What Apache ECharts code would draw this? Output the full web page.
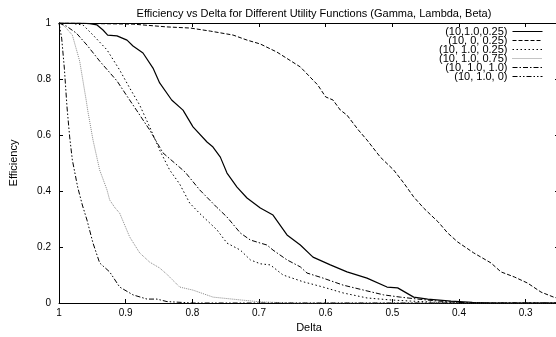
<!DOCTYPE html>
<html>
<head>
<meta charset="utf-8">
<script src="https://cdn.jsdelivr.net/npm/echarts@6/dist/echarts.min.js"></script>
<style>
  html, body { margin: 0; padding: 0; background: #fff; }
  #chart { width: 556px; height: 337px; }
</style>
</head>
<body>
<div id="chart"></div>
<script>
// [delta, efficiency]
const solid_g10_l1_b025 = [[1.0,1.0],[0.97,1.0],[0.954,0.998],[0.943,0.993],[0.934,0.975],[0.927,0.957],[0.913,0.954],[0.898,0.939],[0.889,0.918],[0.874,0.893],[0.859,0.839],[0.849,0.786],[0.831,0.725],[0.814,0.689],[0.799,0.629],[0.778,0.575],[0.769,0.557],[0.758,0.521],[0.748,0.464],[0.733,0.414],[0.718,0.375],[0.698,0.339],[0.679,0.314],[0.658,0.243],[0.638,0.207],[0.619,0.164],[0.593,0.136],[0.568,0.111],[0.538,0.089],[0.508,0.057],[0.492,0.054],[0.468,0.021],[0.447,0.014],[0.412,0.007],[0.38,0.002],[0.35,0],[0.25,0]];
const dashed_g10_l0_b025 = [[1.0,1.0],[0.95,0.998],[0.889,0.996],[0.838,0.986],[0.803,0.982],[0.773,0.971],[0.739,0.957],[0.718,0.939],[0.698,0.925],[0.673,0.896],[0.638,0.843],[0.612,0.779],[0.600,0.736],[0.589,0.725],[0.578,0.689],[0.568,0.671],[0.551,0.618],[0.538,0.582],[0.518,0.521],[0.498,0.475],[0.483,0.429],[0.468,0.379],[0.453,0.339],[0.439,0.307],[0.431,0.289],[0.417,0.25],[0.402,0.218],[0.378,0.179],[0.352,0.143],[0.337,0.111],[0.317,0.093],[0.297,0.071],[0.277,0.039],[0.258,0.021],[0.25,0.016]];
const dotted_g10_l1_b025 = [[1.0,1.0],[0.98,0.998],[0.964,0.993],[0.949,0.957],[0.928,0.904],[0.909,0.832],[0.894,0.768],[0.879,0.707],[0.864,0.629],[0.849,0.546],[0.834,0.475],[0.819,0.425],[0.804,0.357],[0.789,0.32],[0.774,0.286],[0.763,0.261],[0.748,0.214],[0.728,0.189],[0.713,0.154],[0.698,0.14],[0.683,0.136],[0.664,0.1],[0.634,0.076],[0.604,0.057],[0.574,0.036],[0.538,0.018],[0.503,0.011],[0.473,0.007],[0.43,0.002],[0.4,0],[0.25,0]];
const grey_g10_l1_b075 = [[1.0,1.0],[0.992,0.989],[0.98,0.957],[0.969,0.864],[0.959,0.721],[0.957,0.689],[0.949,0.582],[0.939,0.475],[0.928,0.404],[0.924,0.368],[0.916,0.34],[0.909,0.321],[0.894,0.236],[0.879,0.179],[0.864,0.146],[0.849,0.125],[0.837,0.1],[0.819,0.057],[0.799,0.046],[0.769,0.021],[0.728,0.011],[0.698,0.004],[0.65,0],[0.25,0]];
const dashdot_g10_l1_b1 = [[1.0,1.0],[0.989,0.989],[0.974,0.964],[0.958,0.921],[0.939,0.864],[0.913,0.793],[0.898,0.739],[0.883,0.686],[0.864,0.618],[0.844,0.536],[0.811,0.468],[0.789,0.404],[0.763,0.341],[0.748,0.307],[0.728,0.25],[0.713,0.225],[0.698,0.214],[0.688,0.207],[0.679,0.189],[0.664,0.164],[0.658,0.154],[0.638,0.129],[0.628,0.107],[0.604,0.089],[0.574,0.064],[0.543,0.046],[0.513,0.029],[0.488,0.021],[0.462,0.014],[0.432,0.007],[0.4,0.002],[0.37,0],[0.25,0]];
const dashdotdot_g10_l1_b0 = [[1.0,1.0],[0.996,0.946],[0.992,0.839],[0.988,0.7],[0.984,0.593],[0.98,0.511],[0.972,0.414],[0.965,0.35],[0.958,0.296],[0.949,0.214],[0.939,0.143],[0.924,0.111],[0.909,0.057],[0.889,0.029],[0.868,0.014],[0.853,0.014],[0.838,0.005],[0.8,0],[0.25,0]];

const seriesNames = ['(10,1.0,0.25)', '(10, 0, 0.25)', '(10, 1.0, 0.25)', '(10, 1.0, 0.75)', '(10, 1.0, 1.0)', '(10, 1.0, 0)'];

const font = 'Liberation Sans, Arial, Helvetica, sans-serif';

const chart = echarts.init(document.getElementById('chart'), null, { renderer: 'canvas' });

function mkSeries(name, data, color, dash, width) {
  return {
    name: name,
    type: 'line',
    data: data,
    symbol: 'none',
    smooth: false,
    animation: false,
    lineStyle: { color: color, width: width || 1, type: dash },
    itemStyle: { color: color }
  };
}

function xAx(pos, labels) {
  return {
    type: 'value', position: pos, inverse: true,
    min: 0.25, max: 1, splitNumber: 8,
    name: labels ? 'Delta' : '', nameLocation: 'middle', nameGap: 19,
    nameTextStyle: { color: '#000', fontSize: 11, fontFamily: font },
    axisLine: { show: true, onZero: false, lineStyle: { color: '#000', width: 1 } },
    axisTick: { show: true, inside: true, length: 4, lineStyle: { color: '#000' } },
    axisLabel: { show: labels, color: '#000', fontSize: 10, fontFamily: font, margin: 5, showMinLabel: false },
    splitLine: { show: false }
  };
}

function yAx(pos, labels) {
  return {
    type: 'value', position: pos,
    min: 0, max: 1, interval: 0.2,
    name: labels ? 'Efficiency' : '', nameLocation: 'middle', nameGap: 40, nameRotate: 90,
    nameTextStyle: { color: '#000', fontSize: 11, fontFamily: font },
    axisLine: { show: true, onZero: false, lineStyle: { color: '#000', width: 1 } },
    axisTick: { show: true, inside: true, length: 4, lineStyle: { color: '#000' } },
    axisLabel: { show: labels, color: '#000', fontSize: 10, fontFamily: font, margin: 8 },
    splitLine: { show: false }
  };
}

chart.setOption({
  animation: false,
  backgroundColor: '#fff',
  title: {
    text: 'Efficiency vs Delta for Different Utility Functions (Gamma, Lambda, Beta)',
    left: 309, top: 3, textAlign: 'center',
    textStyle: { color: '#000', fontSize: 11, fontWeight: 'normal', fontFamily: font }
  },
  legend: {
    orient: 'vertical', right: 13, top: 26, padding: 0,
    align: 'right', itemWidth: 30, itemHeight: 9, itemGap: -2,
    data: seriesNames,
    itemStyle: { opacity: 0 },
    lineStyle: { width: 1 },
    textStyle: { color: '#000', fontSize: 11, fontFamily: font, width: 80, align: 'right', lineHeight: 9 }
  },
  grid: { left: 59, right: -3, top: 23, bottom: 34, outerBoundsMode: 'none' },
  xAxis: [xAx('bottom', true), xAx('top', false)],
  yAxis: [yAx('left', true), yAx('right', false)],
  series: [
    mkSeries(seriesNames[0], solid_g10_l1_b025, '#000', 'solid', 1.2),
    mkSeries(seriesNames[1], dashed_g10_l0_b025, '#000', [4, 2]),
    mkSeries(seriesNames[2], dotted_g10_l1_b025, '#000', [1.5, 2.5]),
    mkSeries(seriesNames[3], grey_g10_l1_b075, '#888', [1, 1]),
    mkSeries(seriesNames[4], dashdot_g10_l1_b1, '#000', [5, 2, 1.5, 2]),
    mkSeries(seriesNames[5], dashdotdot_g10_l1_b0, '#000', [5, 2, 1.5, 2, 1.5, 2])
  ]
});
</script>
</body>
</html>
